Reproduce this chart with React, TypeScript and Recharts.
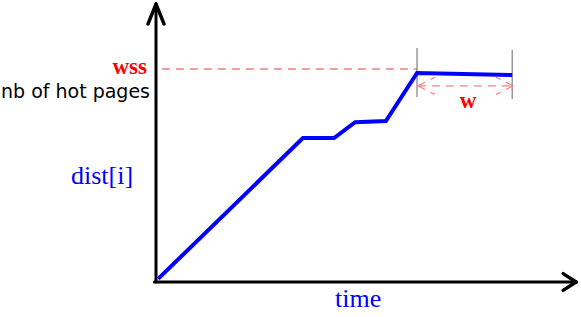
import React from 'react';
import { LineChart, Line, XAxis, YAxis, ReferenceLine } from 'recharts';

// hot pages curve (time, nb of hot pages), arbitrary units 0..100
const times = [0.5, 34.9, 42.3, 47.3, 54.6, 62.0, 84.6];
const pages = [1.1, 51.6, 51.6, 57.3, 57.7, 74.9, 74.2];

// working set size level, dashed from the y axis to the start of the window
const wssTimes = [1.4, 62.0];
const wssLevel = 76.3;

const windowStart = 62.0;
const windowEnd = 84.6;
const windowArrowLevel = 70.3;

const data = times.map((t, i) => ({ t, v: pages[i] }));
const wssData = wssTimes.map((t) => ({ t, w: wssLevel }));

const W = 581;
const H = 317;
const margin = { top: 3, right: 4, bottom: 35, left: 156 };

const serif = '"Liberation Serif", "DejaVu Serif", serif';

export default function App() {
  const black = { stroke: '#000', strokeWidth: 3.5, strokeLinecap: 'round' as const };
  const pink = { stroke: '#ff8080', strokeWidth: 1.2, strokeDasharray: '8 6' };
  return (
    <div style={{ position: 'absolute', left: 0, top: 0, width: W, height: H, background: '#fff' }}>
      <LineChart width={W} height={H} data={data} margin={margin}>
        <XAxis type="number" dataKey="t" domain={[0, 100]} hide allowDuplicatedCategory={false} />
        <YAxis type="number" domain={[0, 100]} hide />

        <Line
          data={wssData}
          type="linear"
          dataKey="w"
          stroke="#ff9a9a"
          strokeWidth={2}
          strokeDasharray="8 6"
          dot={false}
          activeDot={false}
          isAnimationActive={false}
        />

        {/* window bounds */}
        <ReferenceLine segment={[{ x: windowStart, y: 66.3 }, { x: windowStart, y: 83.9 }]} stroke="#666" strokeWidth={1} />
        <ReferenceLine segment={[{ x: windowEnd, y: 65.6 }, { x: windowEnd, y: 83.2 }]} stroke="#666" strokeWidth={1} />
        {/* window double arrow */}
        <ReferenceLine segment={[{ x: windowStart + 0.2, y: windowArrowLevel }, { x: windowEnd + 0.2, y: windowArrowLevel }]} {...pink} />
        <ReferenceLine segment={[{ x: windowStart + 0.2, y: windowArrowLevel }, { x: windowStart + 4.2, y: windowArrowLevel + 3.05 }]} {...pink} />
        <ReferenceLine segment={[{ x: windowStart + 0.2, y: windowArrowLevel }, { x: windowStart + 4.2, y: windowArrowLevel - 3.05 }]} {...pink} />
        <ReferenceLine segment={[{ x: windowEnd + 0.2, y: windowArrowLevel }, { x: windowEnd - 3.8, y: windowArrowLevel + 3.05 }]} {...pink} />
        <ReferenceLine segment={[{ x: windowEnd + 0.2, y: windowArrowLevel }, { x: windowEnd - 3.8, y: windowArrowLevel - 3.05 }]} {...pink} />

        {/* axes with arrow heads */}
        <ReferenceLine segment={[{ x: -0.4, y: 0 }, { x: 99.8, y: 0 }]} ifOverflow="visible" {...black} strokeWidth={3} />
        <ReferenceLine segment={[{ x: 0, y: 0 }, { x: 0, y: 99.6 }]} ifOverflow="visible" {...black} strokeWidth={3} />
        <ReferenceLine segment={[{ x: 99.8, y: 0 }, { x: 96.7, y: 3.0 }]} ifOverflow="visible" {...black} />
        <ReferenceLine segment={[{ x: 99.8, y: 0 }, { x: 96.7, y: -3.0 }]} ifOverflow="visible" {...black} />
        <ReferenceLine segment={[{ x: 0, y: 99.6 }, { x: -1.9, y: 92.5 }]} ifOverflow="visible" {...black} />
        <ReferenceLine segment={[{ x: 0, y: 99.6 }, { x: 1.9, y: 92.5 }]} ifOverflow="visible" {...black} />

        <Line
          type="linear"
          dataKey="v"
          stroke="#0000ff"
          strokeWidth={4}
          dot={false}
          activeDot={false}
          isAnimationActive={false}
        />
      </LineChart>

      <svg width={W} height={H} style={{ position: 'absolute', left: 0, top: 0, pointerEvents: 'none' }}>
        <text x={147} y={74} textAnchor="end" fontFamily={serif} fontWeight="bold" fontSize={23} fill="#ff0000">wss</text>
        <text x={1} y={98} fontFamily='"DejaVu Sans", sans-serif' fontSize={19} fill="#000">nb of hot pages</text>
        <text x={71} y={184} fontFamily={serif} fontSize={26} fill="#0000ff">dist[i]</text>
        <text x={468} y={108} textAnchor="middle" fontFamily={serif} fontWeight="bold" fontSize={23} fill="#ff0000">w</text>
        <text x={335} y={307} fontFamily={serif} fontSize={26} fill="#0000ff">time</text>
      </svg>
    </div>
  );
}
